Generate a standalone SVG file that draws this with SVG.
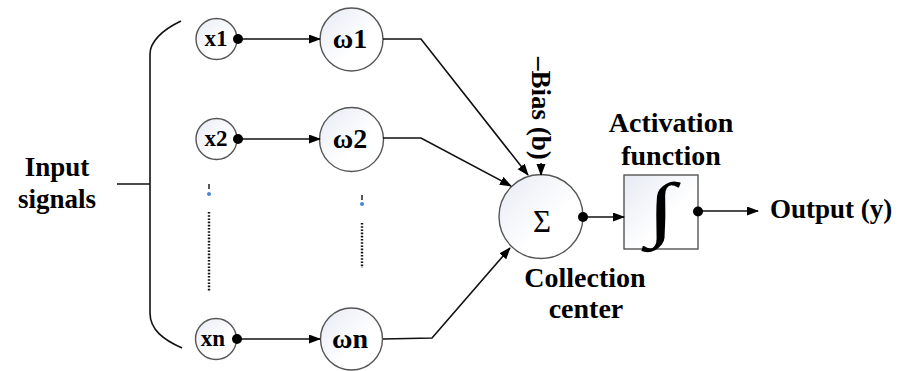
<svg xmlns="http://www.w3.org/2000/svg" width="903" height="371" viewBox="0 0 903 371">
<defs>
<linearGradient id="gf" x1="0" y1="0" x2="1" y2="1">
<stop offset="0" stop-color="#e6eaf4"/>
<stop offset="0.6" stop-color="#ffffff"/>
</linearGradient>
<marker id="ah" markerUnits="userSpaceOnUse" markerWidth="12" markerHeight="10" refX="11" refY="4.5" orient="auto">
<path d="M0,0 L12,4.5 L0,9 z" fill="#000"/>
</marker>
<style>
.nd{fill:url(#gf);stroke:#555;stroke-width:1.4}
.t{font-family:"Liberation Serif","Times New Roman",serif;font-weight:bold;fill:#000;text-anchor:middle}
.c{fill:none;stroke:#111;stroke-width:1.6}
.a{fill:none;stroke:#111;stroke-width:1.6;marker-end:url(#ah)}
.dot{fill:#000}
.dt{stroke:#111;stroke-width:2.4;stroke-dasharray:1.6 1.6}
</style>
</defs>
<rect width="903" height="371" fill="#fff"/>

<g id="input-signals">
<text class="t" x="57" y="176" font-size="27">Input</text>
<text class="t" x="57" y="208" font-size="27">signals</text>
<path class="c" d="M181,21 C162,30 150,42 150,54 L150,313 C150,330 164,340 182,348" stroke-width="1.8"/>
<line class="c" x1="117" y1="184" x2="150" y2="184" stroke-width="1.8"/>
</g>

<g id="x1"><circle class="nd" cx="216.5" cy="39" r="20.5"/><text class="t" x="216" y="46" font-size="23">x1</text></g>
<g id="x2"><circle class="nd" cx="216.5" cy="139" r="20.5"/><text class="t" x="216" y="146" font-size="23">x2</text></g>
<g id="xn"><circle class="nd" cx="216" cy="339" r="20.5"/><text class="t" x="213" y="346" font-size="23">xn</text></g>

<g id="w1"><circle class="nd" cx="351.5" cy="39.5" r="31.5"/><text class="t" x="350" y="48" font-size="28">ω1</text></g>
<g id="w2"><circle class="nd" cx="351.5" cy="139.5" r="32"/><text class="t" x="350" y="148" font-size="28">ω2</text></g>
<g id="wn"><circle class="nd" cx="351.5" cy="339" r="31"/><text class="t" x="350" y="348" font-size="28">ωn</text></g>

<g id="ellipsis">
<line x1="209" y1="184" x2="209" y2="189" stroke="#222" stroke-width="1.5"/>
<circle cx="209" cy="194" r="2" fill="#4a86c8"/>
<line class="dt" x1="209" y1="212" x2="209" y2="291"/>
<line x1="362" y1="195" x2="362" y2="200" stroke="#222" stroke-width="1.5"/>
<circle cx="362" cy="204" r="2" fill="#4a86c8"/>
<line class="dt" x1="362" y1="223" x2="362" y2="268"/>
</g>

<g id="sum">
<circle class="nd" cx="541" cy="216.5" r="42"/>
<text x="542" y="232" font-size="31" text-anchor="middle" font-family="Liberation Serif, serif">Σ</text>
<text class="t" x="585" y="287" font-size="28">Collection</text>
<text class="t" x="586" y="318" font-size="28">center</text>
</g>

<g id="bias">
<text class="t" transform="translate(532,57) rotate(90)" font-size="27" style="text-anchor:start">–Bias (b)</text>
</g>

<g id="activation">
<text class="t" x="671" y="132" font-size="28">Activation</text>
<text class="t" x="671" y="165" font-size="28">function</text>
<rect class="nd" x="624" y="175" width="74" height="74"/>
<text transform="translate(661,233) scale(1.45,1)" font-size="72" text-anchor="middle" font-family="Liberation Serif, serif">∫</text>
</g>

<g id="output">
<text class="t" x="770" y="218" font-size="27" style="text-anchor:start">Output (y)</text>
</g>

<g id="connectors">
<line class="a" x1="238" y1="39" x2="320" y2="39"/>
<line class="a" x1="238" y1="139" x2="320" y2="139"/>
<line class="a" x1="238" y1="339" x2="320" y2="339"/>
<polyline class="a" points="383,39 421,39 528,175"/>
<polyline class="a" points="383,138 421,138 511,186"/>
<polyline class="a" points="383,339 432,338 510,248"/>
<line class="a" x1="541" y1="163" x2="541" y2="175"/>
<line class="a" x1="583" y1="217" x2="624" y2="217"/>
<line class="a" x1="698" y1="211" x2="758" y2="211"/>
<circle class="dot" cx="238" cy="39" r="5"/>
<circle class="dot" cx="238" cy="139" r="5"/>
<circle class="dot" cx="237" cy="339" r="5"/>
<circle class="dot" cx="583" cy="217" r="5"/>
<circle class="dot" cx="698" cy="211.5" r="5"/>
</g>
</svg>
